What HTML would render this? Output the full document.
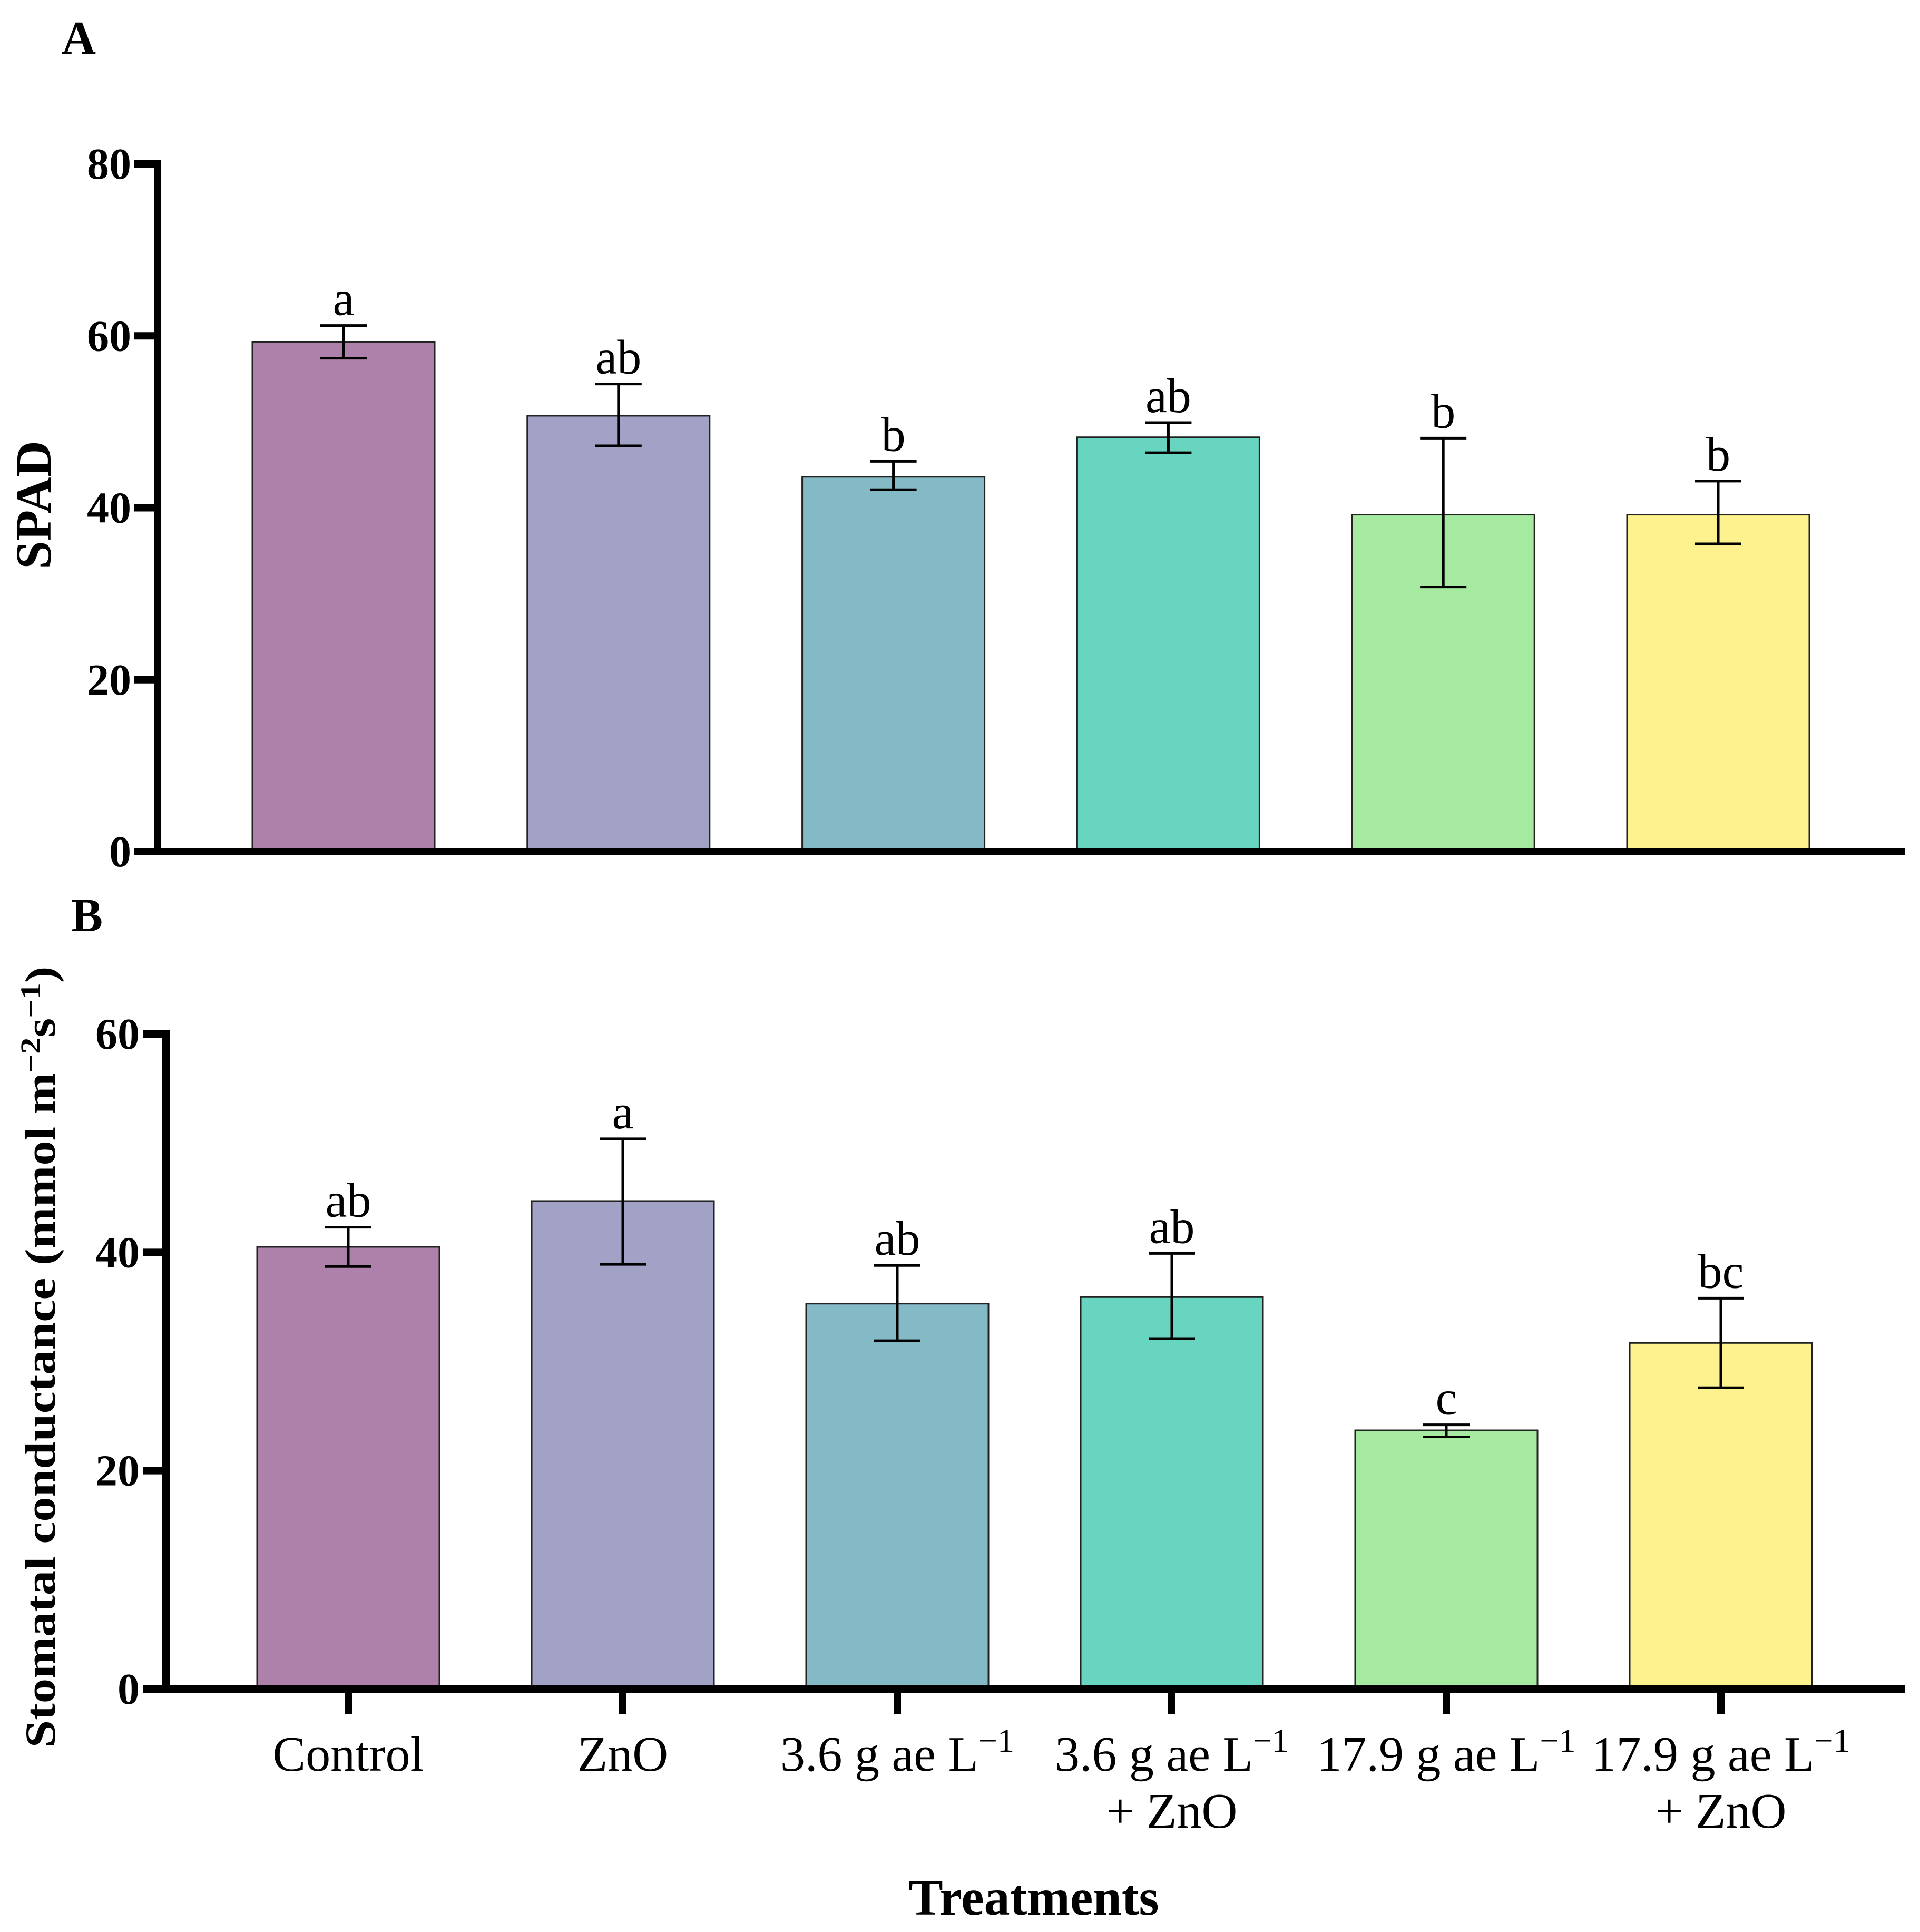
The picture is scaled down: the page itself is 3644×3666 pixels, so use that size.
<!DOCTYPE html>
<html><head><meta charset="utf-8"><style>
html,body{margin:0;padding:0;background:#fff;}
svg{display:block;}
text{font-family:"Liberation Serif","DejaVu Serif",serif;}
</style></head><body>
<svg id="chart" width="3644" height="3666" viewBox="0 0 3644 3666" xmlns="http://www.w3.org/2000/svg">
<g id="root"></g>
</svg>
<script>
const categories = ["Control","ZnO","3.6 g ae L","3.6 g ae L","17.9 g ae L","17.9 g ae L"];
const secondLine = ["","","","+ ZnO","","+ ZnO"];
const superscript = [false,false,true,true,true,true];
const colors = ["#ae81aa","#a2a2c6","#84bac6","#68d5c1","#a6eaa1","#fdf28d"];
const spadValues = [59.3,50.7,43.6,48.2,39.2,39.2];
const spadErrHigh = [61.2,54.4,45.4,49.9,48.1,43.1];
const spadErrLow = [57.4,47.2,42.1,46.4,30.8,35.8];
const spadLetters = ["a","ab","b","ab","b","b"];
const spadTicks = [0,20,40,60,80];
const gsValues = [40.5,44.7,35.3,35.9,23.7,31.7];
const gsErrHigh = [42.3,50.4,38.8,39.9,24.2,35.8];
const gsErrLow = [38.7,38.9,31.9,32.1,23.1,27.6];
const gsLetters = ["ab","a","ab","ab","c","bc"];
const gsTicks = [0,20,40,60];

const NS = "http://www.w3.org/2000/svg";
const root = document.getElementById('root');
function mk(tag, attrs, parent){const e=document.createElementNS(NS,tag);for(const k in attrs)e.setAttribute(k,attrs[k]);(parent||root).appendChild(e);return e;}

function panel(cfg){
  const g = mk('g',{});
  
  
  const y = v => cfg.y0 - (v - 0) / cfg.max * (cfg.y0 - cfg.yTop);
  const xc = i => cfg.x0 + i * cfg.step;
  cfg.values.forEach((v,i)=>{
    const r = mk('rect',{x:xc(i)-cfg.bw/2,y:y(v),width:cfg.bw,height:cfg.y0-y(v),fill:colors[i],stroke:'#222',"stroke-width":3},g);
    
    
    const eb = mk('path',{d:`M${xc(i)},${y(cfg.hi[i])}V${y(cfg.lo[i])}M${xc(i)-44},${y(cfg.hi[i])}H${xc(i)+44}M${xc(i)-44},${y(cfg.lo[i])}H${xc(i)+44}`,stroke:'#000',"stroke-width":5,fill:'none'},g);
    
    
    const t = mk('text',{x:xc(i),y:y(cfg.hi[i])-20,"text-anchor":"middle","font-size":92},g);
    t.textContent = cfg.letters[i];
    
    
  });
  const ax = mk('path',{d:`M${cfg.ax},${cfg.yTop-7}V${cfg.y0+7}M${cfg.ax-7},${cfg.y0}H3616`,stroke:'#000',"stroke-width":14,fill:'none'},g);
  
  
  cfg.ticks.forEach(tv=>{
    const tk = mk('line',{x1:cfg.ax-44,x2:cfg.ax,y1:y(tv),y2:y(tv),stroke:'#000',"stroke-width":14},g);
    
    
    const tl = mk('text',{x:cfg.ax-50,y:y(tv)+28,"text-anchor":"end","font-size":84,"font-weight":"bold"},g);
    tl.textContent = tv;
    
    
  });
  return {g,xc,y};
}

const A = panel({name:'panel-a-spad',x0:652,step:521.8,bw:346,y0:1616,yTop:311,max:80,ax:299,values:spadValues,hi:spadErrHigh,lo:spadErrLow,letters:spadLetters,ticks:spadTicks});
const B = panel({name:'panel-b-stomatal',x0:661,step:521,bw:346,y0:3205,yTop:1962,max:60,ax:315,values:gsValues,hi:gsErrHigh,lo:gsErrLow,letters:gsLetters,ticks:gsTicks});

categories.forEach((c,i)=>{
  const x = B.xc(i);
  const tk = mk('line',{x1:x,x2:x,y1:3205,y2:3252,stroke:'#000',"stroke-width":14});
  
  
  const t = mk('text',{x:x,y:3360,"text-anchor":"middle","font-size":94});
  t.textContent = c;
  if(superscript[i]){const s=mk('tspan',{dy:-36,"font-size":64},t);s.textContent='\u22121';}
  
  
  if(secondLine[i]){
    const t2 = mk('text',{x:x,y:3468,"text-anchor":"middle","font-size":94});
    t2.textContent = secondLine[i];
    
    
  }
});
</script>
<svg style="position:absolute;left:0;top:0" width="3644" height="3666">
<text x="117" y="102" font-size="90" font-weight="bold" font-family="Liberation Serif, serif">A</text>
<text x="135" y="1767" font-size="90" font-weight="bold" font-family="Liberation Serif, serif">B</text>
<text transform="translate(96,958) rotate(-90)" text-anchor="middle" font-size="96" font-weight="bold" font-family="Liberation Serif, serif">SPAD</text>
<text transform="translate(104,2575) rotate(-90)" text-anchor="middle" font-size="82" font-weight="bold" font-family="Liberation Serif, serif" textLength="1483" lengthAdjust="spacingAndGlyphs">Stomatal conductance (mmol m<tspan dy="-28" font-size="54">−2</tspan><tspan dy="28">s</tspan><tspan dy="-28" font-size="54">−1</tspan><tspan dy="28">)</tspan></text>
<text x="1962" y="3633" text-anchor="middle" font-size="98" font-weight="bold" font-family="Liberation Serif, serif">Treatments</text>
</svg>
</body></html>
